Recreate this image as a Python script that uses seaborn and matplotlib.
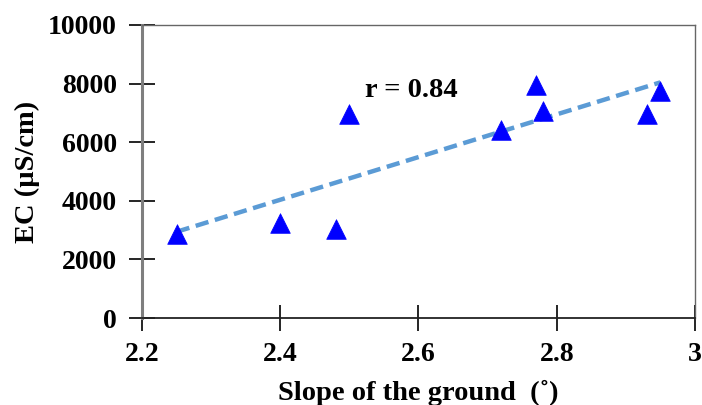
import matplotlib
matplotlib.use("Agg")
import matplotlib.pyplot as plt
import seaborn as sns
import pandas as pd

# values
slope = [2.25, 2.40, 2.48, 2.50, 2.72, 2.77, 2.78, 2.93, 2.95]
ec = [2850, 3250, 3050, 6950, 6400, 7950, 7050, 6950, 7750]
df = pd.DataFrame({"slope": slope, "ec": ec})

sns.set_style("white")
plt.rcParams["font.family"] = ["Liberation Serif", "DejaVu Serif"]
plt.rcParams["font.weight"] = "bold"
plt.rcParams["text.color"] = "black"
plt.rcParams["axes.labelcolor"] = "black"

fig = plt.figure(figsize=(7.02, 4.05), dpi=100)
ax = fig.add_axes([0.2023, 0.2148, 0.7877, 0.7235])

# trend line
sns.regplot(data=df, x="slope", y="ec", scatter=False, ci=None, ax=ax,
            line_kws={"color": "#5B9BD5", "ls": (0, (3, 1.5)), "lw": 3.2})
# points
sns.scatterplot(data=df, x="slope", y="ec", marker="^", s=200, color="#0000FF",
                edgecolor="#0000FF", linewidth=0.5, ax=ax, zorder=3)

ax.set_xlim(2.2, 3.0)
ax.set_ylim(0, 10000)
ax.set_xticks([2.2, 2.4, 2.6, 2.8, 3.0])
ax.set_xticklabels(["2.2", "2.4", "2.6", "2.8", "3"])
ax.set_yticks(range(0, 10001, 2000))

ax.tick_params(axis="both", direction="inout", length=19, width=1.2,
               labelsize=20, colors="black", left=True, bottom=True)
ax.tick_params(axis="y", pad=8.5)
ax.tick_params(axis="x", pad=8)
for lab in ax.get_xticklabels() + ax.get_yticklabels():
    lab.set_fontweight("bold")

ax.spines["left"].set_color("#7f7f7f")
ax.spines["left"].set_linewidth(2.2)
ax.spines["bottom"].set_color("#222222")
ax.spines["bottom"].set_linewidth(1.3)
for s in ["top", "right"]:
    ax.spines[s].set_color("#666666")
    ax.spines[s].set_linewidth(1.0)

ax.set_xlabel("Slope of the ground  (˚)", fontsize=20.5, fontweight="bold", labelpad=9)
ax.set_ylabel("EC (µS/cm)", fontsize=20.5, fontweight="bold", labelpad=6)

ax.text(2.523, 7780, "r = 0.84", fontsize=20.5, fontweight="bold",
        ha="left", va="center")

fig.savefig("out.png", dpi=100)
